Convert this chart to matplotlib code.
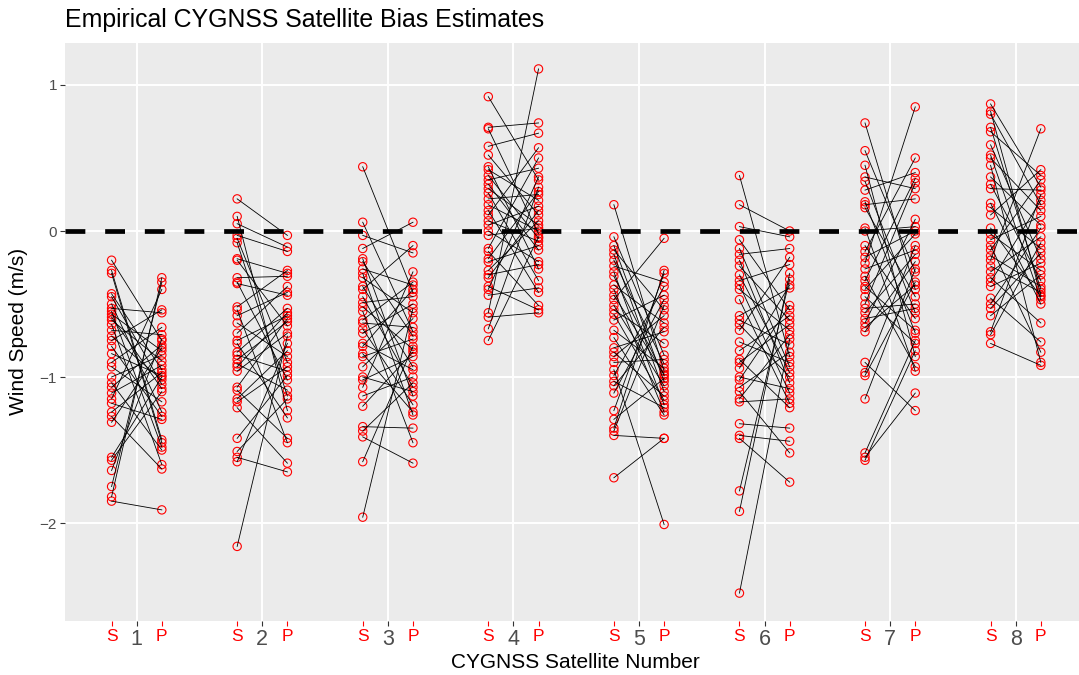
import matplotlib.pyplot as plt

plt.rcParams['font.family'] = ['Liberation Sans', 'DejaVu Sans']

satellites = [1, 2, 3, 4, 5, 6, 7, 8]
y_ticks = [-2, -1, 0, 1]

# bias estimates, S = first point of each pair, P = second point (same order)
s1 = [-0.20, -0.27, -0.29, -0.43, -0.45, -0.50, -0.53, -0.55, -0.57, -0.59, -0.61, -0.64,
      -0.68, -0.72, -0.75, -0.79, -0.84, -0.90, -0.93, -1.00, -1.04, -1.07, -1.11, -1.15,
      -1.18, -1.24, -1.27, -1.31, -1.55, -1.57, -1.64, -1.75, -1.82, -1.85]
p1 = [-0.75, -1.43, -1.45, -0.95, -1.05, -1.24, -0.56, -1.48, -0.82, -1.08, -0.89, -1.60,
      -0.71, -1.02, -0.54, -1.27, -0.99, -0.66, -1.17, -0.85, -1.50, -0.78, -0.92, -0.40,
      -1.29, -0.97, -1.63, -0.80, -1.00, -1.10, -0.74, -0.35, -0.32, -1.91]

s2 = [0.22, 0.10, 0.05, -0.03, -0.05, -0.08, -0.19, -0.20, -0.32, -0.35, -0.36, -0.52,
      -0.54, -0.58, -0.63, -0.70, -0.75, -0.77, -0.83, -0.85, -0.88, -0.91, -0.93, -0.96,
      -1.07, -1.09, -1.15, -1.17, -1.21, -1.42, -1.51, -1.55, -1.58, -2.16]
p2 = [-0.03, -1.23, -0.11, -0.14, -0.90, -1.13, -0.29, -0.65, -0.31, -1.02, -0.44, -0.27,
      -1.45, -0.42, -0.86, -0.38, -0.58, -1.28, -0.53, -0.96, -0.62, -1.09, -0.56, -0.70,
      -0.60, -1.42, -0.82, -0.93, -1.59, -0.99, -1.15, -1.65, -0.77, -0.72]

s3 = [0.44, 0.06, -0.03, -0.12, -0.19, -0.21, -0.26, -0.29, -0.32, -0.38, -0.40, -0.45,
      -0.49, -0.52, -0.55, -0.61, -0.63, -0.67, -0.70, -0.77, -0.79, -0.84, -0.86, -0.93,
      -1.00, -1.02, -1.07, -1.13, -1.20, -1.34, -1.37, -1.41, -1.58, -1.96]
p3 = [-0.42, -0.69, -0.15, 0.06, -1.13, -0.72, -0.37, -1.26, -0.56, -0.93, -0.10, -1.07,
      -0.45, -0.81, -1.45, -0.35, -0.66, -1.19, -0.50, -0.95, -0.40, -1.24, -0.74, -0.60,
      -1.10, -0.86, -0.28, -1.00, -0.83, -1.35, -1.04, -1.59, -0.79, -0.53]

s4 = [0.92, 0.71, 0.70, 0.58, 0.52, 0.44, 0.42, 0.38, 0.35, 0.32, 0.29, 0.26,
      0.22, 0.18, 0.14, 0.11, 0.07, 0.04, 0.00, -0.03, -0.12, -0.14, -0.19, -0.21,
      -0.27, -0.30, -0.32, -0.38, -0.40, -0.44, -0.56, -0.59, -0.67, -0.75]
p4 = [0.35, 0.74, -0.02, 0.67, 0.11, -0.26, 0.21, -0.05, 0.43, -0.13, 0.04, -0.34,
      0.25, 0.00, -0.42, 0.57, -0.07, 0.17, -0.21, 0.02, 0.50, -0.51, 0.27, -0.10,
      0.07, -0.23, 0.14, -0.54, 0.37, -0.39, 1.11, -0.56, 0.30, -0.04]

s5 = [0.18, -0.04, -0.10, -0.13, -0.16, -0.20, -0.24, -0.28, -0.31, -0.37, -0.40, -0.44,
      -0.47, -0.51, -0.54, -0.57, -0.61, -0.68, -0.73, -0.80, -0.83, -0.86, -0.90, -0.95,
      -0.99, -1.03, -1.06, -1.11, -1.23, -1.29, -1.35, -1.37, -1.40, -1.69]
p5 = [-0.96, -0.85, -1.03, -0.54, -1.10, -0.91, -0.35, -1.19, -0.99, -0.63, -1.24, -0.98,
      -0.05, -1.06, -0.77, -1.16, -0.44, -0.94, -1.26, -0.69, -1.13, -0.58, -0.88, -2.01,
      -0.38, -1.21, -0.66, -0.47, -0.29, -1.01, -0.27, -0.51, -1.42, -1.42]

s6 = [0.38, 0.18, 0.03, -0.06, -0.12, -0.16, -0.20, -0.24, -0.30, -0.34, -0.37, -0.40,
      -0.47, -0.58, -0.61, -0.64, -0.68, -0.76, -0.82, -0.88, -0.90, -0.94, -1.00, -1.02,
      -1.07, -1.10, -1.15, -1.17, -1.32, -1.40, -1.42, -1.78, -1.92, -2.48]
p6 = [-0.86, 0.00, -0.04, -0.54, -0.93, -0.12, -1.04, -0.61, -0.97, -0.23, -1.11, -0.68,
      -1.18, -0.39, -0.78, -1.00, -0.18, -0.90, -0.58, -1.21, -0.64, -0.37, -1.08, -0.51,
      -0.83, -1.52, -0.71, -1.15, -1.35, -1.44, -1.72, -0.33, -0.29, -0.74]

s7 = [0.74, 0.55, 0.45, 0.37, 0.34, 0.28, 0.20, 0.18, 0.16, 0.02, 0.00, -0.10,
      -0.14, -0.18, -0.22, -0.26, -0.31, -0.34, -0.38, -0.40, -0.45, -0.50, -0.53, -0.56,
      -0.60, -0.63, -0.66, -0.69, -0.90, -0.97, -0.99, -1.15, -1.52, -1.55, -1.57]
p7 = [-0.40, -0.28, -0.86, 0.29, -0.56, 0.40, -0.70, 0.22, -0.45, -0.96, 0.03, -0.60,
      0.50, 0.00, 0.85, -0.13, -0.93, 0.36, -0.68, -0.02, -0.77, 0.33, -0.50, -0.16,
      -0.53, 0.08, -0.37, -0.21, -1.23, -0.10, -0.35, -0.26, -0.75, -1.11, -0.82]

s8 = [0.87, 0.82, 0.80, 0.71, 0.68, 0.59, 0.52, 0.50, 0.45, 0.37, 0.32, 0.29,
      0.19, 0.16, 0.11, 0.02, -0.02, -0.06, -0.10, -0.13, -0.17, -0.20, -0.24, -0.28,
      -0.32, -0.35, -0.38, -0.46, -0.50, -0.53, -0.58, -0.69, -0.71, -0.77]
p8 = [0.30, -0.44, 0.18, -0.40, 0.38, -0.19, -0.47, 0.14, -0.90, 0.04, -0.34, 0.28,
      -0.50, -0.12, 0.42, -0.45, -0.27, 0.10, -0.83, 0.35, -0.38, 0.70, -0.42, -0.04,
      -0.63, 0.21, -0.22, -0.76, 0.02, -0.15, -0.30, 0.25, -0.08, -0.92]

s_bias = [s1, s2, s3, s4, s5, s6, s7, s8]
p_bias = [p1, p2, p3, p4, p5, p6, p7, p8]

W, H = 1079, 675
fig = plt.figure(figsize=(W / 100, H / 100), dpi=100)
ax = fig.add_axes([65 / W, 54 / H, 1014 / W, 578.5 / H])
ax.set_facecolor('#EBEBEB')
for sp in ax.spines.values():
    sp.set_visible(False)

offset = 0.2
for sat, sv, pv in zip(satellites, s_bias, p_bias):
    xs, xp = sat - offset, sat + offset
    ax.scatter([xs] * len(sv), sv, s=36, facecolors='none', edgecolors='red', linewidths=0.8, zorder=3)
    ax.scatter([xp] * len(pv), pv, s=36, facecolors='none', edgecolors='red', linewidths=0.8, zorder=3)
    for a, b in zip(sv, pv):
        ax.plot([xs, xp], [a, b], color='black', lw=0.6, zorder=4)

ax.axhline(0, color='black', lw=3.4, dashes=(4.2, 4.2), zorder=5)

ax.set_xlim(0.429, 8.504)
ax.set_ylim(-2.671, 1.291)

ax.set_xticks(satellites)
ax.set_xticklabels([str(s) for s in satellites])
minor_pos = []
minor_lab = []
for s in satellites:
    minor_pos += [s - offset, s + offset]
    minor_lab += ['S', 'P']
ax.set_xticks(minor_pos, minor=True)
ax.set_xticklabels(minor_lab, minor=True)
ax.set_yticks(y_ticks)

ax.tick_params(axis='x', which='major', color='#333333', labelcolor='#4D4D4D',
               labelsize=15.5, length=3.3, width=0.8, pad=2.5)
ax.tick_params(axis='x', which='minor', color='red', labelcolor='red',
               labelsize=12.5, length=3.3, width=0.8, pad=2.5)
ax.tick_params(axis='y', color='#333333', labelcolor='#4D4D4D',
               labelsize=11, length=3.3, width=0.8, pad=2.5)

ax.grid(which='major', color='white', lw=1.4)
ax.grid(which='minor', visible=False)
ax.set_axisbelow(True)

fig.text(65 / W, 1 - 27 / H, 'Empirical CYGNSS Satellite Bias Estimates',
         fontsize=17.9, ha='left', va='baseline')
fig.text(575 / W, 1 - 668 / H, 'CYGNSS Satellite Number', fontsize=15,
         ha='center', va='baseline')
fig.text(19 / W, 1 - 331 / H, 'Wind Speed (m/s)', fontsize=15,
         ha='center', va='center', rotation=90)

fig.savefig('out.png', dpi=100)
